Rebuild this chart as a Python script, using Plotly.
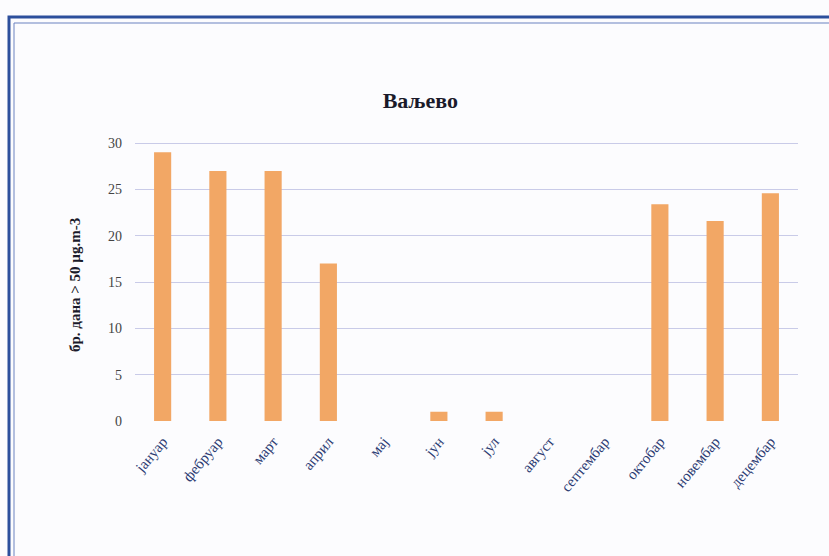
import plotly.graph_objects as go

months = ["јануар", "фебруар", "март", "април", "мај", "јун", "јул",
          "август", "септембар", "октобар", "новембар", "децембар"]
days = [29, 27, 27, 17, 0, 1, 1, 0, 0, 23.4, 21.6, 24.6]
y_ticks = [0, 5, 10, 15, 20, 25, 30]

fig = go.Figure(go.Bar(x=months, y=days, marker=dict(color="#f2a765", line=dict(width=0)),
                       width=0.31))

W, H = 829, 556
L, R, T, B = 135, 31, 142, 135
pw, ph = W - L - R, H - T - B

def px_x(p):
    return (p - L) / pw

def px_y(p):
    return (H - B - p) / ph

fig.update_layout(
    width=W, height=H,
    margin=dict(l=L, r=R, t=T, b=B),
    paper_bgcolor="#fcfcfe", plot_bgcolor="#fcfcfe",
    showlegend=False,
    title=dict(text="<b>Ваљево</b>", x=0.507, xref="container", xanchor="center",
               y=1 - 100 / H, yref="container", yanchor="middle",
               font=dict(family="Liberation Serif", size=22, color="#1a1a2a")),
    xaxis=dict(tickangle=-50, tickfont=dict(family="Liberation Serif", size=15, color="#2b3a72"),
               showgrid=False, showline=False, zeroline=False, ticklabelstandoff=8),
    yaxis=dict(range=[0, 30.12], tickvals=y_ticks, ticktext=[str(v) for v in y_ticks],
               tickfont=dict(family="Liberation Serif", size=14, color="#444"),
               showgrid=True, gridcolor="#c9cbe8", gridwidth=1, zeroline=False,
               ticklabelstandoff=12),
    annotations=[dict(text="<b>бр. дана > 50 µg.m-3</b>", textangle=-90,
                      xref="paper", yref="paper", x=px_x(75), y=px_y(285),
                      showarrow=False, xanchor="center", yanchor="middle",
                      font=dict(family="Liberation Serif", size=15, color="#1a1a2a"))],
    shapes=[
        dict(type="rect", xref="paper", yref="paper",
             x0=px_x(9), x1=px_x(840), y0=px_y(570), y1=px_y(17),
             line=dict(color="#2c4f9c", width=3)),
        dict(type="rect", xref="paper", yref="paper",
             x0=px_x(14), x1=px_x(835), y0=px_y(565), y1=px_y(23),
             line=dict(color="#6a82c0", width=1)),
    ],
)

fig.write_html("out.html")
